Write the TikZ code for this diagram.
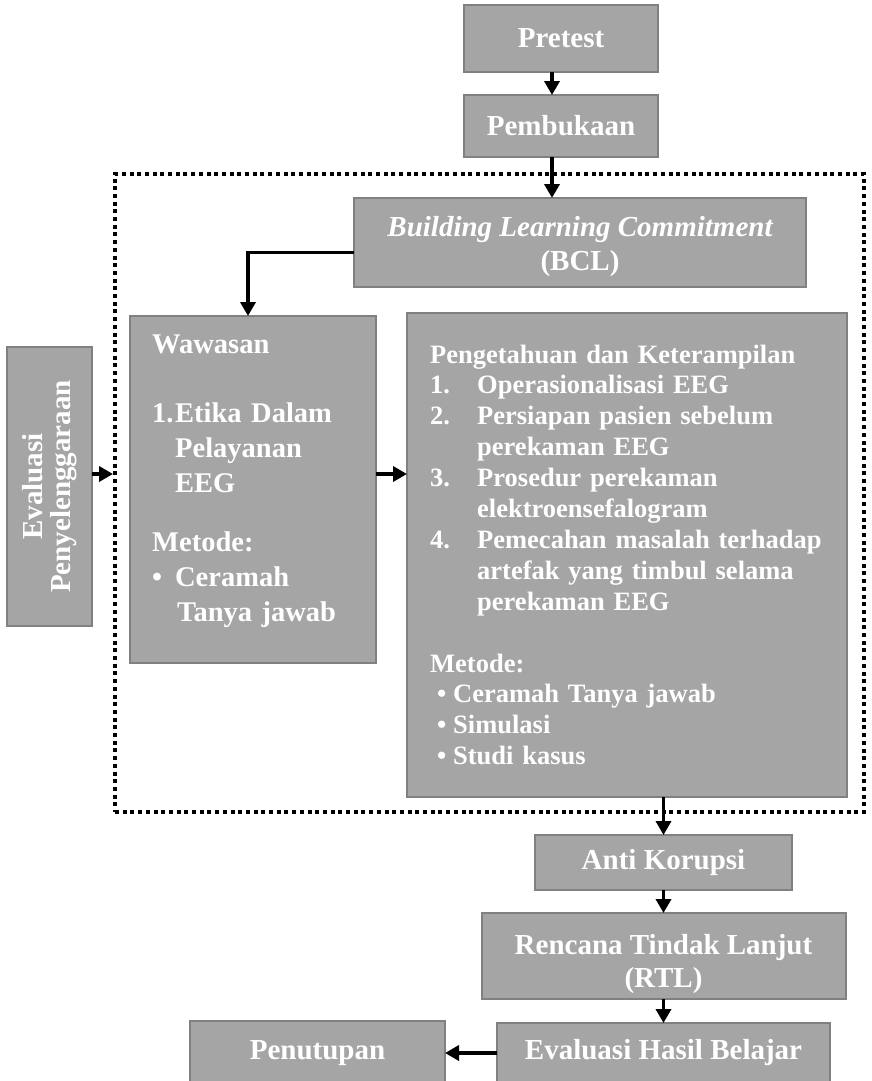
\documentclass[tikz,border=0pt]{standalone}
\usepackage{fontspec}
\setmainfont{Liberation Serif}
\usetikzlibrary{arrows.meta,positioning}

\definecolor{boxfill}{RGB}{165,165,165}
\definecolor{boxline}{RGB}{128,128,128}
\newcommand{\numlabel}[2]{\makebox[#1][l]{#2}}

\begin{document}
\begin{tikzpicture}[
  x=1pt, y=-1pt,
  stepbox/.style={rectangle, draw=boxline, fill=boxfill, line width=2pt, outer sep=0pt, text=white, align=center, font=\fontsize{29}{32.5}\selectfont\bfseries},
  bodytext/.style={anchor=base west, inner sep=0pt, text=white, align=left},
  arr/.style={-{Triangle[width=15pt,length=14pt]}, line width=3.5pt},
  dotframe/.style={draw, line width=4pt, dash pattern=on 4pt off 3.7pt, minimum width=749pt, minimum height=638pt}
]
  \useasboundingbox (0,0) rectangle (871,1081);

  \node (frame) [dotframe] at (489.5,493) {};

  \node (pretest) [stepbox, minimum width=194pt, minimum height=67pt] at (561,38.5) {Pretest};
  \node (pembukaan) [stepbox, minimum width=194pt, minimum height=62pt, below=23pt of pretest] {Pembukaan};
  \node (bcl) [stepbox, minimum width=452pt, minimum height=89pt, below=41pt of pembukaan, xshift=19pt] {\rule{0pt}{28pt}{\itshape Building Learning Commitment}\\[1pt](BCL)};

  % the two session boxes
  \node (wawasan) [stepbox, minimum width=246pt, minimum height=347pt] at (253,489.5) {};
  \node (wawtext) [bodytext, text width=210pt, font=\fontsize{28.5}{35}\selectfont\bfseries] at ([xshift=22pt,yshift=-37pt]wawasan.north west)
    {Wawasan\\[34pt]
     \numlabel{23pt}{1.}Etika Dalam\\
     \hspace*{23pt}Pelayanan\\
     \hspace*{23pt}EEG\\[24pt]
     Metode:\\
     \numlabel{23pt}{•}Ceramah\\
     \hspace*{25pt}Tanya jawab};

  \node (pengetahuan) [stepbox, minimum width=440pt, minimum height=484pt] at (627,555) {};
  \node (ptext) [bodytext, text width=394pt, font=\fontsize{26.5}{30.9}\selectfont\bfseries] at ([xshift=23pt,yshift=-50pt]pengetahuan.north west)
    {Pengetahuan dan Keterampilan\\
     \numlabel{47pt}{1.}Operasionalisasi EEG\\
     \numlabel{47pt}{2.}Persiapan pasien sebelum\\
     \hspace*{47pt}perekaman EEG\\
     \numlabel{47pt}{3.}Prosedur perekaman\\
     \hspace*{47pt}elektroensefalogram\\
     \numlabel{47pt}{4.}Pemecahan masalah terhadap\\
     \hspace*{47pt}artefak yang timbul selama\\
     \hspace*{47pt}perekaman EEG\\[30.9pt]
     Metode:\\
     \hspace*{7pt}\numlabel{16pt}{•}Ceramah Tanya jawab\\
     \hspace*{7pt}\numlabel{16pt}{•}Simulasi\\
     \hspace*{7pt}\numlabel{16pt}{•}Studi kasus};

  % rotated, so its south side faces right
  \node (evalpeny) [stepbox, rotate=90, minimum width=279pt, minimum height=85pt] at (49.5,486.5) {Evaluasi\\[-4pt]Penyelenggaraan};

  \node (antikorupsi) [stepbox, minimum width=257pt, minimum height=55pt] at (663.5,862.5) {Anti Korupsi};
  \node (rtl) [stepbox, minimum width=364pt, minimum height=86pt, below=23pt of antikorupsi] {\rule{0pt}{36pt}Rencana Tindak Lanjut\\[1pt](RTL)};
  \node (evalhasil) [stepbox, minimum width=333pt, minimum height=60pt, below=24pt of rtl] {Evaluasi Hasil Belajar};
  \node (penutupan) [stepbox, minimum width=255pt, minimum height=64pt, left=52pt of evalhasil] {Penutupan};

  \coordinate (mainline) at ([xshift=-9pt]pretest.south);
  \coordinate (midline) at ([yshift=12.5pt]evalpeny.south);

  \draw[arr] (mainline) -- (mainline |- pembukaan.north);
  \draw[arr] (mainline |- pembukaan.south) -- (mainline |- bcl.north);
  \draw[arr] ([yshift=-10pt]bcl.west) -| ([xshift=-5pt]wawasan.north);
  \draw[arr] (midline) -- (midline -| frame.west);
  \draw[arr] (midline -| wawasan.east) -- (midline -| pengetahuan.west);
  \draw[arr] (pengetahuan.south -| antikorupsi.north) -- (antikorupsi.north);
  \draw[arr] (antikorupsi.south) -- (antikorupsi.south |- rtl.north);
  \draw[arr] (rtl.south -| evalhasil.north) -- (evalhasil.north);
  \draw[arr] (evalhasil.west) -- (penutupan.east);
\end{tikzpicture}
\end{document}
